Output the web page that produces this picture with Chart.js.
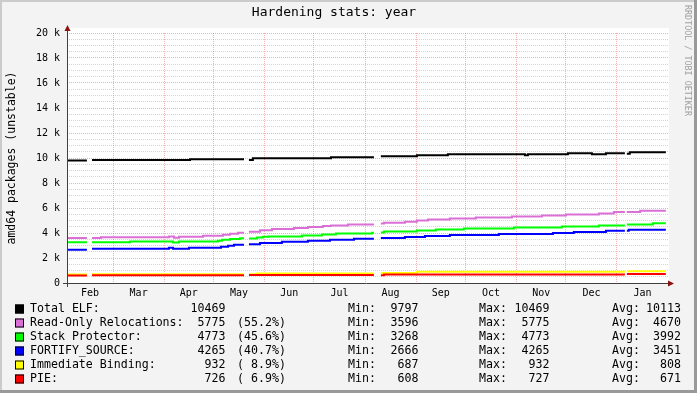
<!DOCTYPE html>
<html>
<head>
<meta charset="utf-8">
<script src="https://cdn.jsdelivr.net/npm/chart.js@4.4.1/dist/chart.umd.min.js"></script>
<style>
  body { margin: 0; background: #f3f3f3; }
  canvas { display: block; }
</style>
</head>
<body>
<canvas id="hardeningChart" width="697" height="393"></canvas>
<script>
// days counted from Feb 1 (left edge of the plot); null = no data
const seriesNames = ['Total ELF:', 'Read-Only Relocations:', 'Stack Protector:', 'FORTIFY_SOURCE:', 'Immediate Binding:', 'PIE:'];
const seriesColors = ['#000000', '#da70d6', '#00ff00', '#0000ff', '#ffff00', '#ff0000'];

const totalDays = [0, 12.1, 15.2, 74.7, 107.5, 110.5, 112.9, 160.3, 186.4, 190.6, 212.5, 231.3, 278.1, 279.9, 304.2, 318.8, 327.3, 338.8, 340.0, 341.8, 363.7];
const totalVals = [9797, null, 9850, 9900, null, 9850, 9980, 10060, null, 10150, 10230, 10300, 10230, 10300, 10380, 10300, 10380, null, 10350, 10469];

const relroDays = [0, 12.1, 15.2, 20.6, 61.9, 65.0, 68.0, 82.6, 94.7, 99.0, 103.8, 107.5, 110.5, 117.2, 124.5, 137.8, 146.3, 155.4, 160.3, 170.6, 186.4, 190.6, 192.5, 205.2, 212.5, 219.2, 232.5, 248.3, 270.2, 288.4, 303.0, 323.0, 332.1, 338.8, 340.0, 348.1, 363.7];
const relroVals = [3596, null, 3596, 3660, 3730, 3620, 3700, 3780, 3860, 3940, 4030, null, 4110, 4220, 4320, 4400, 4480, 4560, 4610, 4690, null, 4760, 4830, 4900, 5010, 5090, 5170, 5250, 5330, 5410, 5490, 5570, 5680, null, 5680, 5775];

const sspDays = [0, 12.1, 15.2, 38.25, 64.4, 68.0, 91.7, 94.1, 99.0, 105.0, 107.5, 110.5, 115.4, 119.0, 122.6, 142.7, 154.8, 163.3, 185.2, 186.4, 190.6, 192.5, 212.5, 224.0, 241.0, 271.4, 300.5, 323.0, 338.8, 340.0, 355.8, 363.7];
const sspVals = [3268, null, 3268, 3330, 3250, 3330, 3390, 3460, 3530, 3580, null, 3560, 3640, 3700, 3730, 3810, 3890, 3970, 4020, null, 4050, 4130, 4210, 4290, 4370, 4450, 4530, 4610, null, 4690, 4773];

const fortifyDays = [0, 12.1, 15.2, 61.9, 64.4, 74.1, 93.5, 97.8, 101.4, 107.5, 110.5, 117.2, 130.5, 146.3, 159.7, 174.3, 186.4, 190.6, 205.2, 217.4, 232.5, 262.3, 295.1, 307.8, 327.3, 338.8, 340.0, 341.2, 363.7];
const fortifyVals = [2666, null, 2740, 2820, 2740, 2820, 2900, 2980, 3060, null, 3110, 3210, 3300, 3380, 3460, 3540, null, 3600, 3680, 3760, 3840, 3920, 4000, 4080, 4180, null, 4180, 4265];

const bindnowDays = [0, 12.1, 15.2, 107.5, 110.5, 115.0, 186.4, 190.6, 212.5, 338.8, 340.0, 363.7];
const bindnowVals = [687, null, 700, null, 700, 760, null, 800, 900, null, 932];

const pieDays = [0, 12.1, 15.2, 107.5, 110.5, 186.4, 190.6, 192.5, 338.8, 340.0, 363.7];
const pieVals = [608, null, 612, null, 640, null, 620, 690, null, 727];

// legend statistics
const lastValues = [10469, 5775, 4773, 4265, 932, 726];
const percentages = [null, 55.2, 45.6, 40.7, 8.9, 6.9];
const minValues = [9797, 3596, 3268, 2666, 687, 608];
const maxValues = [10469, 5775, 4773, 4265, 932, 727];
const avgValues = [10113, 4670, 3992, 3451, 808, 671];

// x axis: month boundaries (grid) and month middles (labels)
const monthStarts = [28, 59, 89, 120, 150, 181, 212, 242, 273, 303, 334];
const monthMids = [14, 43.5, 74, 104.5, 135, 165.5, 196.5, 227, 257.5, 288, 318.5, 349.5];
const monthLabels = ['Feb', 'Mar', 'Apr', 'May', 'Jun', 'Jul', 'Aug', 'Sep', 'Oct', 'Nov', 'Dec', 'Jan'];

const MONO = "'DejaVu Sans Mono', monospace";
const majorGrid = 'rgba(225, 100, 100, 0.5)';
const minorGrid = 'rgba(150, 150, 150, 0.4)';

function stepPoints(days, vals) {
    const pts = [];
    for (let i = 0; i < vals.length; i++) {
        if (vals[i] === null) {
            pts.push({ x: days[i], y: null });
            continue;
        }
        pts.push({ x: days[i], y: vals[i] });
        pts.push({ x: days[i + 1], y: vals[i] });
    }
    return pts;
}

const allDays = [totalDays, relroDays, sspDays, fortifyDays, bindnowDays, pieDays];
const allVals = [totalVals, relroVals, sspVals, fortifyVals, bindnowVals, pieVals];

const datasets = seriesNames.map(function(name, i) {
    return {
        label: name,
        data: stepPoints(allDays[i], allVals[i]),
        borderColor: seriesColors[i],
        borderWidth: 2,
        pointRadius: 0,
        fill: false,
        spanGaps: false,
        order: seriesNames.length - i
    };
});

const framePlugin = {
    id: 'frame',
    beforeDraw: function(chart) {
        const ctx = chart.ctx;
        const a = chart.chartArea;
        ctx.save();
        ctx.fillStyle = '#f3f3f3';
        ctx.fillRect(0, 0, chart.width, chart.height);
        ctx.fillStyle = '#cbcbcb';
        ctx.fillRect(0, 0, chart.width, 2);
        ctx.fillRect(0, 0, 2, chart.height);
        ctx.fillStyle = '#999999';
        ctx.fillRect(0, chart.height - 3, chart.width, 3);
        ctx.fillRect(chart.width - 3, 0, 3, chart.height);
        ctx.fillStyle = '#ffffff';
        ctx.fillRect(a.left, a.top - 5, a.right - a.left + 1, a.bottom - a.top + 5);
        ctx.restore();
    },
    afterDraw: function(chart) {
        const ctx = chart.ctx;
        const a = chart.chartArea;
        ctx.save();
        // axes
        ctx.strokeStyle = '#404040';
        ctx.lineWidth = 1;
        ctx.beginPath();
        ctx.moveTo(a.left + 0.5, a.bottom + 4);
        ctx.lineTo(a.left + 0.5, a.top - 3);
        ctx.moveTo(a.left - 4, a.bottom + 0.5);
        ctx.lineTo(a.right + 2, a.bottom + 0.5);
        ctx.stroke();
        ctx.fillStyle = '#8b1010';
        ctx.beginPath();
        ctx.moveTo(a.left + 0.5, a.top - 8);
        ctx.lineTo(a.left + 3.5, a.top - 2);
        ctx.lineTo(a.left - 2.5, a.top - 2);
        ctx.closePath();
        ctx.fill();
        ctx.beginPath();
        ctx.moveTo(a.right + 6, a.bottom + 0.5);
        ctx.lineTo(a.right, a.bottom + 3.5);
        ctx.lineTo(a.right, a.bottom - 2.5);
        ctx.closePath();
        ctx.fill();

        // watermark
        ctx.fillStyle = '#a0a0a0';
        ctx.font = '8.4px ' + MONO;
        ctx.textBaseline = 'middle';
        ctx.textAlign = 'left';
        ctx.translate(687, 5);
        ctx.rotate(Math.PI / 2);
        ctx.fillText('RRDTOOL / TOBI OETIKER', 0, 0);
        ctx.restore();

        // legend table
        ctx.save();
        ctx.font = '11.6px ' + MONO;
        ctx.textBaseline = 'middle';
        ctx.fillStyle = '#000';
        seriesNames.forEach(function(name, i) {
            const y = 309 + i * 14;
            ctx.fillStyle = seriesColors[i];
            ctx.fillRect(15, y - 4.5, 9, 9);
            ctx.strokeStyle = '#000';
            ctx.lineWidth = 1;
            ctx.strokeRect(15.5, y - 4, 8, 8);
            ctx.fillStyle = '#000';
            ctx.textAlign = 'left';
            ctx.fillText(name, 30, y);
            if (percentages[i] !== null) {
                ctx.fillText('(' + percentages[i].toFixed(1).padStart(4) + '%)', 237, y);
            }
            ctx.fillText('Min:', 348, y);
            ctx.fillText('Max:', 479, y);
            ctx.fillText('Avg:', 612, y);
            ctx.textAlign = 'right';
            ctx.fillText(String(lastValues[i]), 225.5, y);
            ctx.fillText(String(minValues[i]), 418.5, y);
            ctx.fillText(String(maxValues[i]), 549.5, y);
            ctx.fillText(String(avgValues[i]), 681, y);
        });
        ctx.restore();
    }
};

const config = {
    type: 'line',
    data: { datasets: datasets },
    options: {
        responsive: false,
        animation: false,
        devicePixelRatio: 1,
        layout: { padding: { left: 0, right: 29, top: 0, bottom: 90 } },
        scales: {
            x: {
                type: 'linear',
                min: 0,
                max: 365,
                afterBuildTicks: function(scale) {
                    scale.ticks = monthStarts.concat(monthMids).sort(function(a, b) { return a - b; })
                        .map(function(v) { return { value: v }; });
                },
                afterFit: function(scale) { scale.height = 20; },
                ticks: {
                    autoSkip: false,
                    maxRotation: 0,
                    minRotation: 0,
                    padding: 4,
                    color: '#000',
                    font: { family: MONO, size: 10 },
                    callback: function(value) {
                        const k = monthMids.indexOf(value);
                        return k >= 0 ? monthLabels[k] : '';
                    }
                },
                grid: {
                    drawTicks: false,
                    lineWidth: 1,
                    color: function(c) {
                        return c.tick && monthStarts.indexOf(c.tick.value) >= 0 ? majorGrid : 'rgba(0,0,0,0)';
                    }
                },
                border: { display: false, dash: [1, 1] }
            },
            y: {
                min: 0,
                max: 20000,
                afterBuildTicks: function(scale) {
                    const t = [];
                    for (let v = 0; v <= 20000; v += 500) t.push({ value: v });
                    scale.ticks = t;
                },
                afterFit: function(scale) { scale.width = 67; },
                ticks: {
                    autoSkip: false,
                    padding: 7,
                    color: '#000',
                    font: { family: MONO, size: 10 },
                    callback: function(value) {
                        if (value % 2000 !== 0) return '';
                        return value === 0 ? '0' : (value / 1000) + ' k';
                    }
                },
                grid: {
                    drawTicks: false,
                    lineWidth: 1,
                    color: function(c) {
                        if (!c.tick || c.tick.value === 0) return 'rgba(0,0,0,0)';
                        return c.tick.value % 2000 === 0 ? majorGrid : minorGrid;
                    }
                },
                border: { display: false, dash: [1, 1] },
                title: {
                    display: true,
                    text: 'amd64 packages (unstable)',
                    color: '#000',
                    font: { family: MONO, size: 11.5 },
                    padding: { top: 5, bottom: 0 }
                }
            }
        },
        plugins: {
            legend: { display: false },
            tooltip: { enabled: false },
            title: {
                display: true,
                text: 'Hardening stats: year',
                color: '#000',
                font: { family: MONO, size: 13, weight: 'normal' },
                padding: { top: 5, bottom: 12.4 }
            }
        }
    },
    plugins: [framePlugin]
};

const ctx = document.getElementById('hardeningChart').getContext('2d');
new Chart(ctx, config);
</script>
</body>
</html>
